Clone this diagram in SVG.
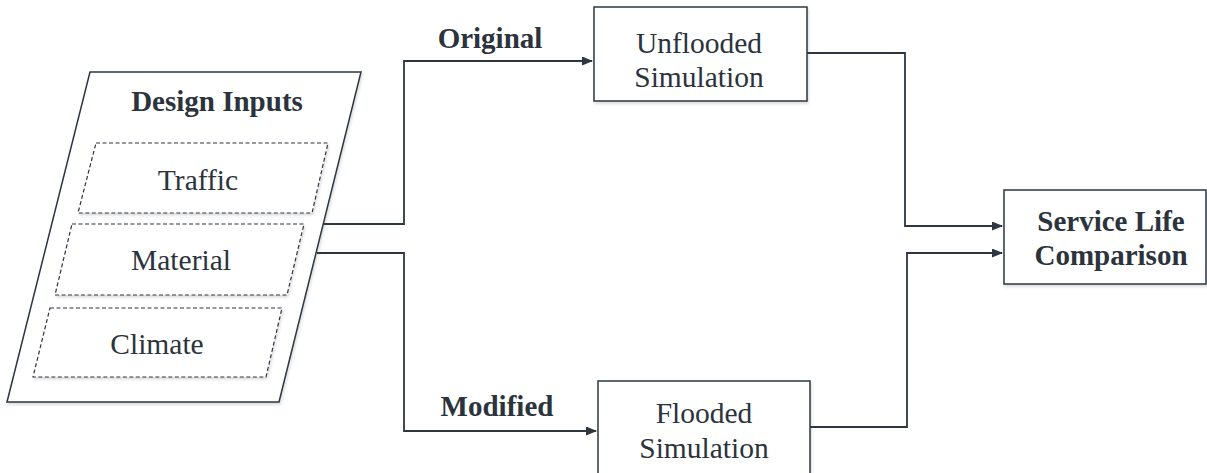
<svg xmlns="http://www.w3.org/2000/svg" width="1207" height="473" viewBox="0 0 1207 473">
<style>
.shape{fill:#fff;stroke:#2e3640;stroke-width:1.5}
.dash{fill:#fff;stroke:#2e3640;stroke-width:1.2;stroke-dasharray:4 2.5}
.conn{fill:none;stroke:#2e3640;stroke-width:1.8}
text{font-family:"Liberation Serif","Times New Roman",serif;fill:#2b333d;text-anchor:middle}
.reg{font-size:29.5px}
.bold{font-size:29px;font-weight:bold}
</style>
<defs>
<filter id="sh" x="-10%" y="-10%" width="120%" height="130%">
<feDropShadow dx="1" dy="2" stdDeviation="1.5" flood-color="#000" flood-opacity="0.15"/>
</filter>
<marker id="arr" markerWidth="11" markerHeight="9" refX="10" refY="4.5" orient="auto" markerUnits="userSpaceOnUse">
<path d="M0,0 L11,4.5 L0,9 Z" fill="#2e3640"/>
</marker>
</defs>
<rect width="1207" height="473" fill="#fff"/>
<g id="design-inputs">
<polygon class="shape" filter="url(#sh)" points="90,72 361,72 279,402 7,402"/>
<text class="bold" x="217" y="111">Design Inputs</text>
</g>
<g id="traffic">
<polygon class="dash" filter="url(#sh)" points="96,143 328,143 312,213 78,213"/>
<text class="reg" x="198" y="190">Traffic</text>
</g>
<g id="material">
<polygon class="dash" filter="url(#sh)" points="72,224 304,224 287,295 55,295"/>
<text class="reg" x="181" y="270">Material</text>
</g>
<g id="climate">
<polygon class="dash" filter="url(#sh)" points="50,308 282,308 266,377 33,377"/>
<text class="reg" x="157" y="354">Climate</text>
</g>
<g id="unflooded">
<rect class="shape" filter="url(#sh)" x="594" y="7" width="213" height="94"/>
<text class="reg" x="699" y="53">Unflooded</text>
<text class="reg" x="699" y="87">Simulation</text>
</g>
<g id="flooded">
<rect class="shape" filter="url(#sh)" x="598" y="381" width="212" height="100"/>
<text class="reg" x="704" y="423">Flooded</text>
<text class="reg" x="704" y="458">Simulation</text>
</g>
<g id="service-life">
<rect class="shape" filter="url(#sh)" x="1004" y="190" width="202" height="94"/>
<text class="bold" x="1111" y="231">Service Life</text>
<text class="bold" x="1111" y="265">Comparison</text>
</g>
<g id="connectors">
<path class="conn" marker-end="url(#arr)" d="M324,224 H404 V61 H592"/>
<path class="conn" marker-end="url(#arr)" d="M317,253 H404 V431 H596"/>
<path class="conn" marker-end="url(#arr)" d="M807,53 H905 V226 H1002"/>
<path class="conn" marker-end="url(#arr)" d="M810,427 H907 V253 H1002"/>
<text class="bold" x="490" y="48">Original</text>
<text class="bold" x="497" y="416">Modified</text>
</g>
</svg>
